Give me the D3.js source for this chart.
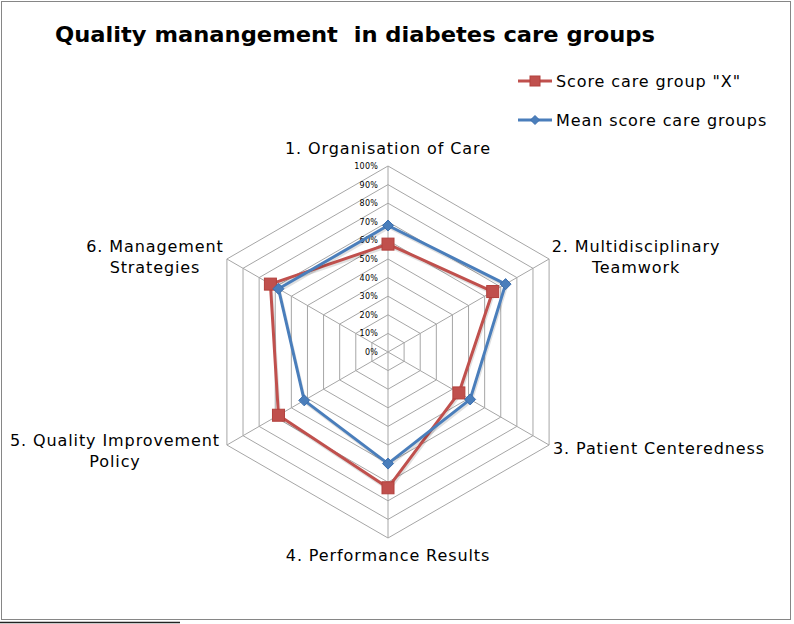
<!DOCTYPE html>
<html>
<head>
<meta charset="utf-8">
<script src="https://cdn.jsdelivr.net/npm/d3@7"></script>
<style>
  html, body { margin: 0; padding: 0; background: #fff; }
  svg { display: block; }
</style>
</head>
<body>
<svg id="chart" width="794" height="624"></svg>
<script>
const categories = [
  ["1. Organisation of Care"],
  ["2. Multidisciplinary", "Teamwork"],
  ["3. Patient Centeredness"],
  ["4. Performance Results"],
  ["5. Quality Improvement", "Policy"],
  ["6. Management", "Strategies"]
];
const scoreX = [0.58, 0.65, 0.44, 0.73, 0.68, 0.73];
const meanScore = [0.68, 0.73, 0.51, 0.60, 0.52, 0.68];
const tickValues = [0, 0.1, 0.2, 0.3, 0.4, 0.5, 0.6, 0.7, 0.8, 0.9, 1.0];
const seriesNames = ['Score care group "X"', "Mean score care groups"];

const svg = d3.select("#chart");
const cx = 388, cy = 352, R = 186;
const r = d3.scaleLinear().domain([0, 1]).range([0, R]);
const n = categories.length;
const ang = i => -Math.PI / 2 + i * 2 * Math.PI / n;
const pt = (i, v) => [cx + r(v) * Math.cos(ang(i)), cy + r(v) * Math.sin(ang(i))];
const FONT = "DejaVu Sans";

// border
svg.append("rect").attr("x", 1.5).attr("y", 1.5).attr("width", 789).attr("height", 618)
  .attr("fill", "#fff").attr("stroke", "#868686").attr("stroke-width", 1);
svg.append("line").attr("x1", 0).attr("x2", 180).attr("y1", 622.5).attr("y2", 622.5)
  .attr("stroke", "#222").attr("stroke-width", 1.5);

// title
svg.append("text").attr("x", 55).attr("y", 42)
  .attr("font-family", FONT).attr("font-weight", "bold").attr("font-size", 21)
  .attr("textLength", 600).attr("lengthAdjust", "spacingAndGlyphs")
  .style("white-space", "pre")
  .text("Quality manangement  in diabetes care groups");

// grid hexagons
const line = d3.line();
tickValues.filter(t => t > 0).forEach(t => {
  const pts = d3.range(n).map(i => pt(i, t));
  svg.append("path").attr("d", line(pts) + "Z")
    .attr("fill", "none").attr("stroke", "#a6a6a6").attr("stroke-width", 1);
});
// spokes
d3.range(n).forEach(i => {
  const p = pt(i, 1);
  svg.append("line").attr("x1", cx).attr("y1", cy).attr("x2", p[0]).attr("y2", p[1])
    .attr("stroke", "#a6a6a6").attr("stroke-width", 1);
});

// tick labels
svg.selectAll("text.tick").data(tickValues).enter().append("text")
  .attr("class", "tick")
  .attr("x", cx - 10).attr("y", d => cy - r(d) + 3)
  .attr("text-anchor", "end")
  .attr("font-family", FONT).attr("font-size", 8).attr("letter-spacing", 0.2).attr("fill", "#000")
  .text(d => d3.format(".0%")(d));

// category labels
const labelPos = [
  {x: 388, y: 154, anchor: "middle"},
  {x: 636, y: 252, anchor: "middle"},
  {x: 553, y: 454, anchor: "start"},
  {x: 388, y: 561, anchor: "middle"},
  {x: 115, y: 446, anchor: "middle"},
  {x: 155, y: 252, anchor: "middle"}
];
categories.forEach((lines, i) => {
  const t = svg.append("text")
    .attr("x", labelPos[i].x).attr("y", labelPos[i].y)
    .attr("text-anchor", labelPos[i].anchor)
    .attr("font-family", FONT).attr("font-size", 16).attr("letter-spacing", 0.9).attr("fill", "#000");
  lines.forEach((s, k) => {
    t.append("tspan").attr("x", labelPos[i].x).attr("dy", k === 0 ? 0 : 21).text(s);
  });
});

// series
const colors = ["#C0504D", "#4A7EBB"];
const strokes = ["#B2403C", "#3C6FAE"];
const data = [scoreX, meanScore];

data.forEach((vals, s) => {
  const pts = vals.map((v, i) => pt(i, v));
  svg.append("path").attr("d", line(pts) + "Z")
    .attr("fill", "none").attr("stroke", "rgba(0,0,0,0.12)").attr("stroke-width", 3)
    .attr("transform", "translate(1,2)").attr("stroke-linejoin", "round");
  svg.append("path").attr("d", line(pts) + "Z")
    .attr("fill", "none").attr("stroke", colors[s]).attr("stroke-width", 3)
    .attr("stroke-linejoin", "round");
});

function marker(g, s, x, y, size) {
  if (s === 0) {
    g.append("rect").attr("x", x - size / 2).attr("y", y - size / 2)
      .attr("width", size).attr("height", size)
      .attr("fill", colors[0]).attr("stroke", strokes[0]).attr("stroke-width", 1);
  } else {
    const h = size / 2 + 0.5;
    g.append("path").attr("d", `M${x},${y - h}L${x + h},${y}L${x},${y + h}L${x - h},${y}Z`)
      .attr("fill", colors[1]).attr("stroke", strokes[1]).attr("stroke-width", 1);
  }
}

const mg = svg.append("g");
data.forEach((vals, s) => {
  vals.forEach((v, i) => {
    const p = pt(i, v);
    marker(mg, s, p[0], p[1], s === 0 ? 12 : 10);
  });
});

// legend
const legY = [81, 120];
seriesNames.forEach((name, s) => {
  svg.append("line").attr("x1", 518).attr("x2", 552).attr("y1", legY[s]).attr("y2", legY[s])
    .attr("stroke", colors[s]).attr("stroke-width", 3);
  marker(svg, s, 535, legY[s], s === 0 ? 10 : 8);
  svg.append("text").attr("x", 556).attr("y", legY[s] + 6)
    .attr("font-family", FONT).attr("font-size", 16).attr("letter-spacing", 0.9).attr("fill", "#000")
    .text(name);
});
</script>
</body>
</html>
